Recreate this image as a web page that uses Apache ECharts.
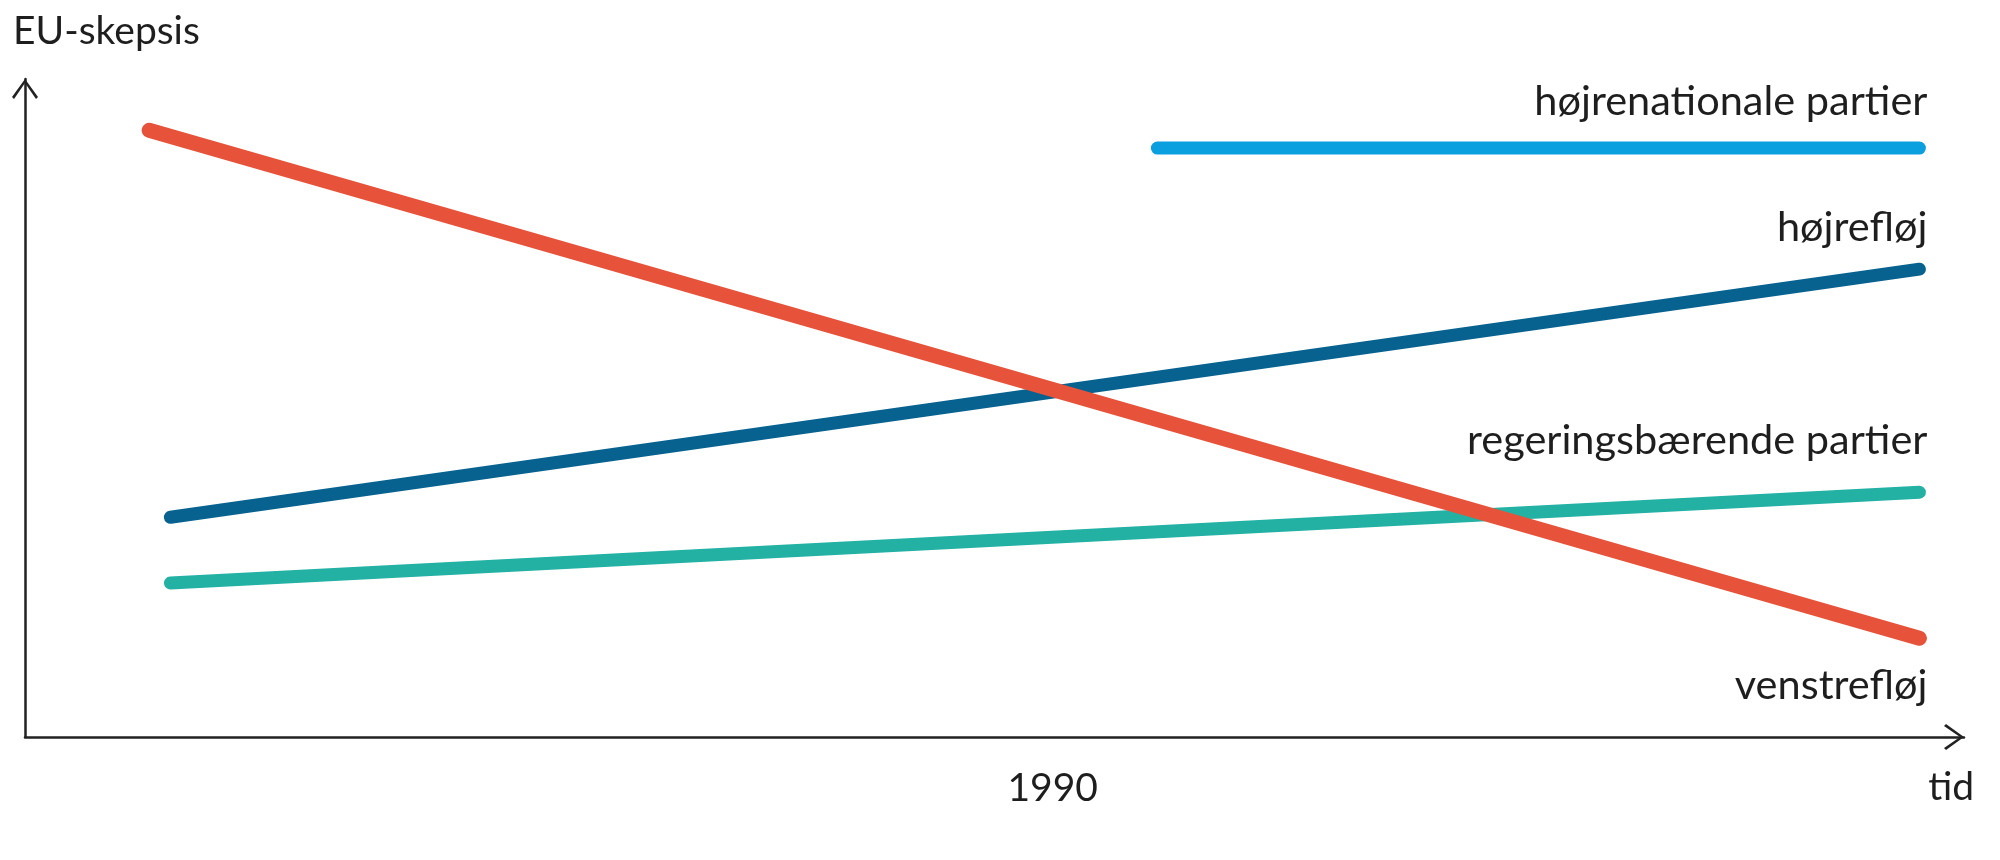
<!DOCTYPE html>
<html>
<head>
<meta charset="utf-8">
<script src="https://cdn.jsdelivr.net/npm/echarts@6/dist/echarts.min.js"></script>
<style>
  html, body { margin: 0; padding: 0; background: #ffffff; }
  #chart { width: 2000px; height: 860px; }
</style>
</head>
<body>
<div id="chart"></div>
<script>
// ---- data (conceptual scales: time 0..100, EU-skepsis 0..100) ----
const xTickValues = [53];
const xTickLabels = ['1990'];

const seriesNames = ['højrenationale partier', 'højrefløj', 'regeringsbærende partier', 'venstrefløj'];

const hojrenationaleX = [58.4, 97.7];
const hojrenationaleY = [89.5, 89.5];

const hojreflojX = [7.5, 97.7];
const hojreflojY = [33.4, 71.1];

const regeringX = [7.5, 97.7];
const regeringY = [23.4, 37.2];

const venstreX = [6.4, 97.7];
const venstreY = [92.2, 15.0];

// ---- styling ----
const FONT = 'Lato';
const TEXT = '#1e1e1e';
const AXIS = '#222222';
const colors = ['#0a9fdf', '#07628f', '#22b1a3', '#e6533a'];
const widths = [13, 13, 13, 15];
// label placement relative to the line's end point, in pixels [dx, dy]
const labelShift = [[8, -46], [8, -42], [8, -52], [8, 47]];

const xs = [hojrenationaleX, hojreflojX, regeringX, venstreX];
const ys = [hojrenationaleY, hojreflojY, regeringY, venstreY];

const chevron = 'path://M0,18 L13,0 L26,18 L24,20 L13,4 L2,20 Z';

const series = seriesNames.map(function (name, i) {
  const n = xs[i].length;
  return {
    type: 'line',
    name: name,
    data: xs[i].map(function (x, j) { return [x, ys[i][j]]; }),
    showSymbol: true,
    symbol: 'circle',
    symbolSize: 1,
    z: i === 3 ? 5 : 3,
    lineStyle: { color: colors[i], width: widths[i], cap: 'round' },
    itemStyle: { color: colors[i] },
    label: {
      show: true,
      position: 'inside',
      align: 'right',
      verticalAlign: 'middle',
      fontFamily: FONT,
      fontSize: 41.5,
      color: TEXT,
      formatter: function (p) { return p.dataIndex === n - 1 ? p.seriesName : ''; }
    },
    labelLayout: { hideOverlap: false, dx: labelShift[i][0], dy: labelShift[i][1] },
    emphasis: { disabled: true }
  };
});

const chart = echarts.init(document.getElementById('chart'), null, { renderer: 'canvas' });
chart.setOption({
  backgroundColor: '#ffffff',
  animation: false,
  tooltip: { show: false },
  title: {
    text: 'EU-skepsis',
    left: 13,
    top: 12,
    padding: 0,
    textStyle: { fontFamily: FONT, fontSize: 39, fontWeight: 'normal', color: TEXT }
  },
  grid: { left: 25, right: 36, top: 79, bottom: 123, containLabel: false },
  xAxis: {
    type: 'value',
    min: 0,
    max: 100,
    name: 'tid',
    nameLocation: 'end',
    nameGap: 10,
    nameTextStyle: {
      fontFamily: FONT, fontSize: 39, color: TEXT,
      align: 'right', verticalAlign: 'top', padding: [31, 0, 0, 0]
    },
    axisLine: {
      show: true,
      onZero: false,
      symbol: ['none', chevron],
      symbolSize: [26, 20],
      symbolOffset: [0, -10],
      lineStyle: { color: AXIS, width: 2.5 }
    },
    axisTick: { show: false },
    splitLine: { show: false },
    axisLabel: {
      customValues: xTickValues,
      margin: 32,
      fontFamily: FONT,
      fontSize: 39,
      color: TEXT,
      formatter: function (v) {
        const k = xTickValues.indexOf(v);
        return k >= 0 ? xTickLabels[k] : '';
      }
    }
  },
  yAxis: {
    type: 'value',
    min: 0,
    max: 100,
    axisLine: {
      show: true,
      onZero: false,
      symbol: ['none', chevron],
      symbolSize: [26, 20],
      symbolOffset: [0, -10],
      lineStyle: { color: AXIS, width: 2.5 }
    },
    axisTick: { show: false },
    splitLine: { show: false },
    axisLabel: { show: false }
  },
  series: series
});
</script>
</body>
</html>
